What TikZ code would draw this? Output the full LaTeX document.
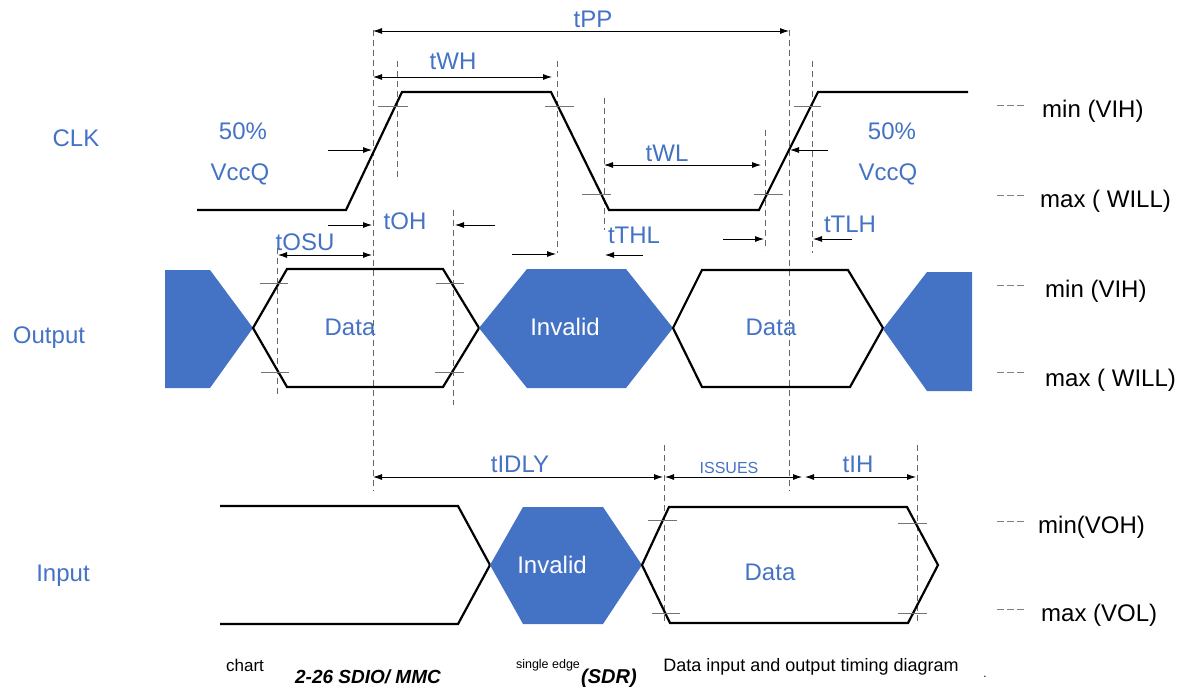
\documentclass[tikz,border=0pt]{standalone}
\usepackage{fontspec}
\setmainfont{Liberation Sans}
\usetikzlibrary{arrows.meta}
\definecolor{ob}{HTML}{4472C4}
\begin{document}
\begin{tikzpicture}[x=1pt,y=-1pt,
  wave/.style={line width=2.2pt, line join=miter},
  guide/.style={dash pattern=on 6pt off 4pt, draw=black!60, line width=1pt},
  tickm/.style={draw=black!55, line width=0.9pt},
  dim/.style={line width=0.8pt, {Latex[length=9pt,width=6pt]}-{Latex[length=9pt,width=6pt]}},
  arr/.style={line width=0.8pt, -{Latex[length=9pt,width=6pt]}},
  lbl/.style={text=ob, font=\fontsize{24}{26}\selectfont, inner sep=0pt, anchor=base},
  wlbl/.style={text=white, font=\fontsize{24}{26}\selectfont, inner sep=0pt, anchor=base},
  rlbl/.style={text=black, font=\fontsize{24}{26}\selectfont, inner sep=0pt, anchor=base west},
  rdash/.style={draw=black!50, dash pattern=on 7pt off 3pt, line width=0.9pt},
  captxt/.style={text=black, inner sep=0pt, anchor=base},
]
\useasboundingbox (0,0) rectangle (1189,686);

% ---------- guide lines ----------
\draw[guide] (373,30) -- (373,491);
\draw[guide] (397,61) -- (397,180);
\draw[guide] (557,61) -- (557,253);
\draw[guide] (604,98) -- (604,230);
\draw[guide] (765,130) -- (765,250);
\draw[guide] (789,30) -- (789,491);
\draw[guide] (812,61) -- (812,253);
\draw[guide] (277,248) -- (277,398);
\draw[guide] (453,210) -- (453,405);
\draw[guide] (664,445) -- (664,625);
\draw[guide] (917,445) -- (917,625);

% ---------- CLK ----------
\draw[wave] (197,210) -- (346,210) -- (402,92) -- (551,92) -- (609,210) -- (759,210) -- (818,92) -- (968,92);
\draw[tickm] (378,106) -- (408,106);
\draw[tickm] (545,106) -- (574,106);
\draw[tickm] (582,194) -- (611,194);
\draw[tickm] (754,194) -- (783,194);
\draw[tickm] (794,106) -- (821,106);

% ---------- Output ----------
\fill[ob] (165,270) -- (210,270) -- (253,328) -- (210,388) -- (165,388) -- cycle;
\draw[wave] (253,328) -- (287,269) -- (443,269) -- (479,328) -- (443,387) -- (287,387) -- cycle;
\fill[ob] (479,328) -- (527,269) -- (626,269) -- (673,328) -- (626,388) -- (527,388) -- cycle;
\draw[wave] (673,328) -- (702,270) -- (848,270) -- (883,328) -- (850,387) -- (702,387) -- cycle;
\fill[ob] (883,329) -- (927,272) -- (972,272) -- (972,391) -- (927,391) -- cycle;
\draw[tickm] (260,283) -- (288,283);
\draw[tickm] (436,283) -- (464,283);
\draw[tickm] (261,372) -- (289,372);
\draw[tickm] (435,372) -- (464,372);

% ---------- Input ----------
\draw[wave] (220,506) -- (458,506) -- (490,565);
\draw[wave] (220,624) -- (458,624) -- (490,565);
\fill[ob] (490,565) -- (523,507) -- (603,507) -- (642,565) -- (603,624) -- (523,624) -- cycle;
\draw[wave] (642,565) -- (669,507) -- (907,507) -- (938,565) -- (908,623) -- (670,623) -- cycle;
\draw[tickm] (648,520) -- (677,520);
\draw[tickm] (652,613) -- (680,613);
\draw[tickm] (898,523) -- (927,523);
\draw[tickm] (898,613) -- (927,613);

% ---------- dimension arrows ----------
\coordinate (pp1) at (373,31);  \coordinate (pp2) at (789,31);
\draw[dim] (pp1) -- (pp2);
\coordinate (wh1) at (373,77);  \coordinate (wh2) at (552,77);
\draw[dim] (wh1) -- (wh2);
\coordinate (wl1) at (604,165); \coordinate (wl2) at (761,165);
\draw[dim] (wl1) -- (wl2);
\coordinate (va0) at (328,150); \coordinate (va1) at (372,150);
\draw[arr] (va0) -- (va1);
\coordinate (vb0) at (828,150); \coordinate (vb1) at (790,150);
\draw[arr] (vb0) -- (vb1);
\coordinate (oha0) at (328,225); \coordinate (oha1) at (372,225);
\draw[arr] (oha0) -- (oha1);
\coordinate (ohb0) at (495,225); \coordinate (ohb1) at (455,225);
\draw[arr] (ohb0) -- (ohb1);
\coordinate (su1) at (278,255); \coordinate (su2) at (372,255);
\draw[dim] (su1) -- (su2);
\coordinate (hla0) at (512,254); \coordinate (hla1) at (556,254);
\draw[arr] (hla0) -- (hla1);
\coordinate (hlb0) at (643,255); \coordinate (hlb1) at (605,255);
\draw[arr] (hlb0) -- (hlb1);
\coordinate (lha0) at (723,239); \coordinate (lha1) at (764,239);
\draw[arr] (lha0) -- (lha1);
\coordinate (lhb0) at (852,239); \coordinate (lhb1) at (813,239);
\draw[arr] (lhb0) -- (lhb1);
\coordinate (id1) at (373,477); \coordinate (id2) at (663,477);
\draw[dim] (id1) -- (id2);
\coordinate (is1) at (665,477); \coordinate (is2) at (802,477);
\draw[dim] (is1) -- (is2);
\coordinate (ih1) at (805,477); \coordinate (ih2) at (916,477);
\draw[dim] (ih1) -- (ih2);

% ---------- labels ----------
\node[lbl] (tpp) at (593,27) {tPP};
\node[lbl] (twh) at (453,69) {tWH};
\node[lbl] (twl) at (667,161) {tWL};
\node[lbl] (p50a) at (243,139) {50\%};
\node[lbl] (vcca) at (240,180) {VccQ};
\node[lbl] (p50b) at (892,139) {50\%};
\node[lbl] (vccb) at (888,180) {VccQ};
\node[lbl] (toh) at (405,229) {tOH};
\node[lbl] (tosu) at (305,250) {tOSU};
\node[lbl] (tthl) at (634,243) {tTHL};
\node[lbl] (ttlh) at (850,232) {tTLH};
\node[lbl] (tidly) at (520,472) {tIDLY};
\node[lbl, font=\fontsize{16}{18}\selectfont] (issues) at (729,473) {ISSUES};
\node[lbl] (tih) at (858,472) {tIH};
\node[lbl] (d1) at (350,335) {Data};
\node[wlbl] (inv1) at (565,335) {Invalid};
\node[lbl] (d2) at (771,335) {Data};
\node[wlbl] (inv2) at (552,573) {Invalid};
\node[lbl] (d3) at (770,580) {Data};
\node[lbl] (clk) at (76,146) {CLK};
\node[lbl] (out) at (49,343) {Output};
\node[lbl] (inp) at (63,581) {Input};

% ---------- right-side levels ----------
\draw[rdash] (997,105) -- (1027,105);
\draw[rdash] (997,195) -- (1027,195);
\draw[rdash] (997,285) -- (1027,285);
\draw[rdash] (997,372) -- (1027,372);
\draw[rdash] (997,521) -- (1027,521);
\draw[rdash] (997,609) -- (1027,609);
\node[rlbl] (r1) at (1042,117) {min (VIH)};
\node[rlbl] (r2) at (1040,207) {max ( WILL)};
\node[rlbl] (r3) at (1045,297) {min (VIH)};
\node[rlbl] (r4) at (1045,386) {max ( WILL)};
\node[rlbl] (r5) at (1038,533) {min(VOH)};
\node[rlbl] (r6) at (1041,621) {max (VOL)};

% ---------- caption ----------
\node[captxt, font=\fontsize{17}{19}\selectfont] (c1) at (245,671) {chart};
\node[captxt, font=\fontsize{19}{21}\selectfont\bfseries\itshape] (c2) at (368,683) {2-26 SDIO/ MMC};
\node[captxt, font=\fontsize{12.5}{14}\selectfont] (c3) at (548,668) {single edge};
\node[captxt, font=\fontsize{20}{22}\selectfont\bfseries\itshape] (c4) at (609,683) {(SDR)};
\node[captxt, font=\fontsize{18}{20}\selectfont] (c5) at (811,671) {Data input and output timing diagram};
\node[captxt, font=\fontsize{12}{14}\selectfont] (c6) at (985,677) {.};
\end{tikzpicture}
\end{document}
